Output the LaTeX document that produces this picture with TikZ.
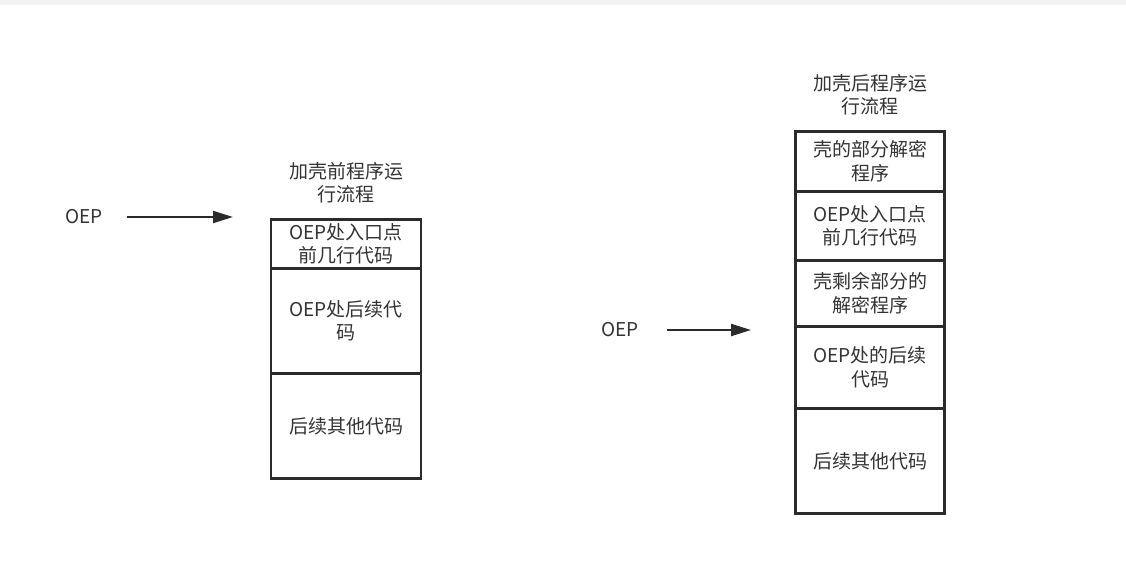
\documentclass[tikz,border=0pt]{standalone}
\usepackage{fontspec}
\setmainfont{Noto Sans CJK SC}
\usetikzlibrary{arrows.meta}
\definecolor{ink}{HTML}{333333}
\definecolor{edge}{HTML}{2B2B2B}
\definecolor{topbar}{HTML}{F2F2F2}
\begin{document}
\begin{tikzpicture}[x=1pt,y=-1pt,
  txt/.style={text=ink,font=\fontsize{19}{23.5}\selectfont,align=center,inner sep=0pt},
  cell/.style={txt,draw=edge,line width=2.8pt,minimum width=#1,anchor=north},
  conn/.style={draw=edge,line width=2.2pt,-{Triangle[length=20pt,width=12pt]}}]
\useasboundingbox (0,0) rectangle (1126,584);
\fill[topbar] (0,0) rectangle (1126,5);
% left
\node[txt] (t1) at (346,183) {加壳前程序运\\行流程};
\node[txt] (oep1) at (84,217) {OEP};
\coordinate (a1s) at (127,217);
\coordinate (a1e) at (233,217);
\draw[conn] (a1s) -- (a1e);
\node[cell=150pt,minimum height=49pt] (l1) at (346,218) {OEP处入口点\\前几行代码};
\node[cell=150pt,minimum height=105pt] (l2) at (346,267) {OEP处后续代\\码};
\node[cell=150pt,minimum height=105pt] (l3) at (346,372) {后续其他代码};
% right
\node[txt] (t2) at (870,95) {加壳后程序运\\行流程};
\node[txt] (oep2) at (620,330) {OEP};
\coordinate (a2s) at (667,330);
\coordinate (a2e) at (751,330);
\draw[conn] (a2s) -- (a2e);
\node[cell=149pt,minimum height=60pt] (r1) at (870,130) {壳的部分解密\\程序};
\node[cell=149pt,minimum height=69pt] (r2) at (870,190) {OEP处入口点\\前几行代码};
\node[cell=149pt,minimum height=66pt] (r3) at (870,259) {壳剩余部分的\\解密程序};
\node[cell=149pt,minimum height=82pt] (r4) at (870,325) {OEP处的后续\\代码};
\node[cell=149pt,minimum height=105pt] (r5) at (870,407) {后续其他代码};
\end{tikzpicture}
\end{document}
